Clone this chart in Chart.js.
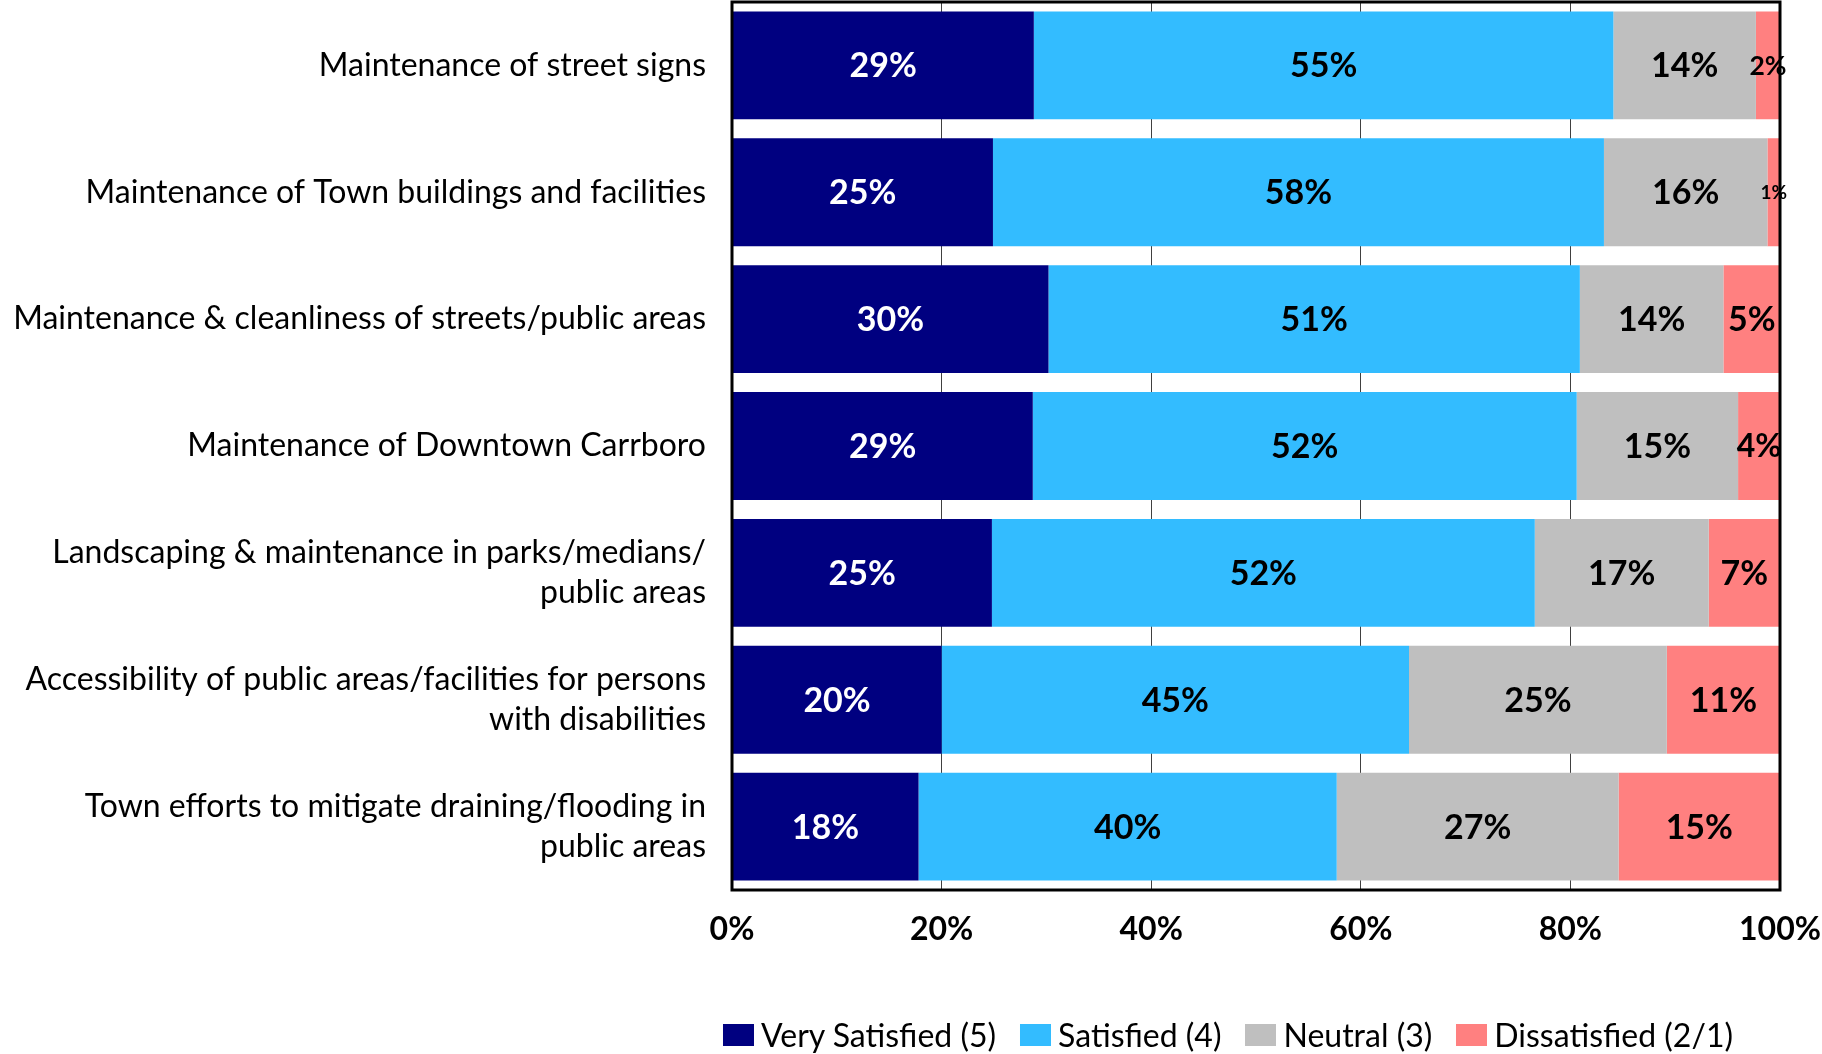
<!DOCTYPE html>
<html lang="en">
<head>
  <meta charset="UTF-8">
  <title>Satisfaction with Maintenance Services</title>
  <script src="https://cdn.jsdelivr.net/npm/chart.js"></script>
  <style>
    html, body {
      margin: 0;
      padding: 0;
      background: #ffffff;
    }
    #wrap {
      position: relative;
      width: 1822px;
      height: 1054px;
    }
    #legenda {
      position: absolute;
      top: 1016px;
      left: 1228px;
      transform: translateX(-50%);
      display: flex;
      align-items: center;
      white-space: nowrap;
      font-family: Lato, sans-serif;
      font-size: 32px;
      line-height: 38px;
      color: #000;
    }
    #legenda .item {
      display: flex;
      align-items: center;
      margin-right: 24px;
    }
    #legenda .item:last-child {
      margin-right: 0;
    }
    #legenda .box {
      width: 31px;
      height: 22px;
      margin-right: 7px;
    }
  </style>
</head>
<body>
  <div id="wrap">
    <canvas id="grafico"></canvas>
    <div id="legenda"></div>
  </div>

<script>
  // categorias (eixo vertical)
  const categories = [
    'Maintenance of street signs',
    'Maintenance of Town buildings and facilities',
    'Maintenance & cleanliness of streets/public areas',
    'Maintenance of Downtown Carrboro',
    ['Landscaping & maintenance in parks/medians/', 'public areas'],
    ['Accessibility of public areas/facilities for persons', 'with disabilities'],
    ['Town efforts to mitigate draining/flooding in', 'public areas']
  ];

  // percentuais por resposta
  const verySatisfied = [28.8, 24.9, 30.2, 28.7, 24.8, 20.0, 17.8];
  const satisfied     = [55.3, 58.3, 50.7, 51.9, 51.8, 44.6, 39.9];
  const neutral       = [13.6, 15.6, 13.7, 15.4, 16.6, 24.6, 26.9];
  const dissatisfied  = [2.3, 1.2, 5.4, 4.0, 6.8, 10.8, 15.4];

  const seriesNames = ['Very Satisfied (5)', 'Satisfied (4)', 'Neutral (3)', 'Dissatisfied (2/1)'];
  const seriesColors = ['#000080', '#33bcff', '#bfbfbf', '#ff8080'];
  const xTicks = [0, 20, 40, 60, 80, 100];

  // escreve o percentual no meio de cada segmento
  const rotulosPlugin = {
    id: 'rotulos',
    afterDatasetsDraw(chart) {
      const ctx = chart.ctx;
      ctx.save();
      ctx.textAlign = 'center';
      ctx.textBaseline = 'middle';
      chart.data.datasets.forEach((ds, i) => {
        const meta = chart.getDatasetMeta(i);
        meta.data.forEach((bar, j) => {
          const largura = Math.abs(bar.x - bar.base);
          let tam = 34;
          // segmentos estreitos ganham fonte menor
          if (largura < 50) tam = Math.min(32, 19 + (largura - 12.6) * 0.65);
          ctx.font = 'bold ' + tam + 'px Lato, sans-serif';
          ctx.fillStyle = i === 0 ? '#ffffff' : '#000000';
          ctx.fillText(Math.round(ds.data[j]) + '%', (bar.x + bar.base) / 2, bar.y + 1);
        });
      });
      ctx.restore();
    }
  };

  // moldura preta em volta da area do grafico
  const molduraPlugin = {
    id: 'moldura',
    afterDraw(chart) {
      const a = chart.chartArea;
      const ctx = chart.ctx;
      ctx.save();
      ctx.strokeStyle = '#000000';
      ctx.lineWidth = 3;
      ctx.strokeRect(a.left, a.top, a.right - a.left, a.bottom - a.top);
      ctx.restore();
    }
  };

  const ctx = document.getElementById('grafico').getContext('2d');
  const grafico = new Chart(ctx, {
    type: 'bar',
    data: {
      labels: categories,
      datasets: [verySatisfied, satisfied, neutral, dissatisfied].map((valores, i) => ({
        label: seriesNames[i],
        data: valores,
        backgroundColor: seriesColors[i],
        borderWidth: 0,
        barPercentage: 0.85,
        categoryPercentage: 1
      }))
    },
    options: {
      indexAxis: 'y',
      responsive: true,
      maintainAspectRatio: false,
      animation: false,
      layout: {
        padding: { top: 2, right: 42, left: 0, bottom: 0 }
      },
      plugins: {
        legend: { display: false },
        tooltip: { enabled: false }
      },
      scales: {
        x: {
          stacked: true,
          min: 0,
          max: 100,
          afterBuildTicks(scale) {
            scale.ticks = xTicks.map(v => ({ value: v }));
          },
          afterFit(scale) {
            scale.height = 164;
            scale.paddingLeft = 0;
            scale.paddingRight = 0;
          },
          ticks: {
            padding: 20,
            color: '#000000',
            font: { family: 'Lato, sans-serif', size: 32, weight: 'bold' },
            callback: v => v + '%'
          },
          grid: {
            color: '#404040',
            lineWidth: 1,
            drawTicks: false
          },
          border: { display: false }
        },
        y: {
          stacked: true,
          afterFit(scale) {
            scale.width = 732;
            scale.paddingTop = 0;
            scale.paddingBottom = 0;
          },
          ticks: {
            padding: 26,
            color: '#000000',
            font: { family: 'Lato, sans-serif', size: 32, lineHeight: 1.25 }
          },
          grid: { display: false, drawTicks: false },
          border: { display: false }
        }
      }
    },
    plugins: [rotulosPlugin, molduraPlugin]
  });

  // legenda em HTML a partir dos datasets
  const legenda = document.getElementById('legenda');
  grafico.data.datasets.forEach(ds => {
    const item = document.createElement('div');
    item.className = 'item';
    const box = document.createElement('span');
    box.className = 'box';
    box.style.background = ds.backgroundColor;
    const txt = document.createElement('span');
    txt.textContent = ds.label;
    item.appendChild(box);
    item.appendChild(txt);
    legenda.appendChild(item);
  });
</script>
</body>
</html>
